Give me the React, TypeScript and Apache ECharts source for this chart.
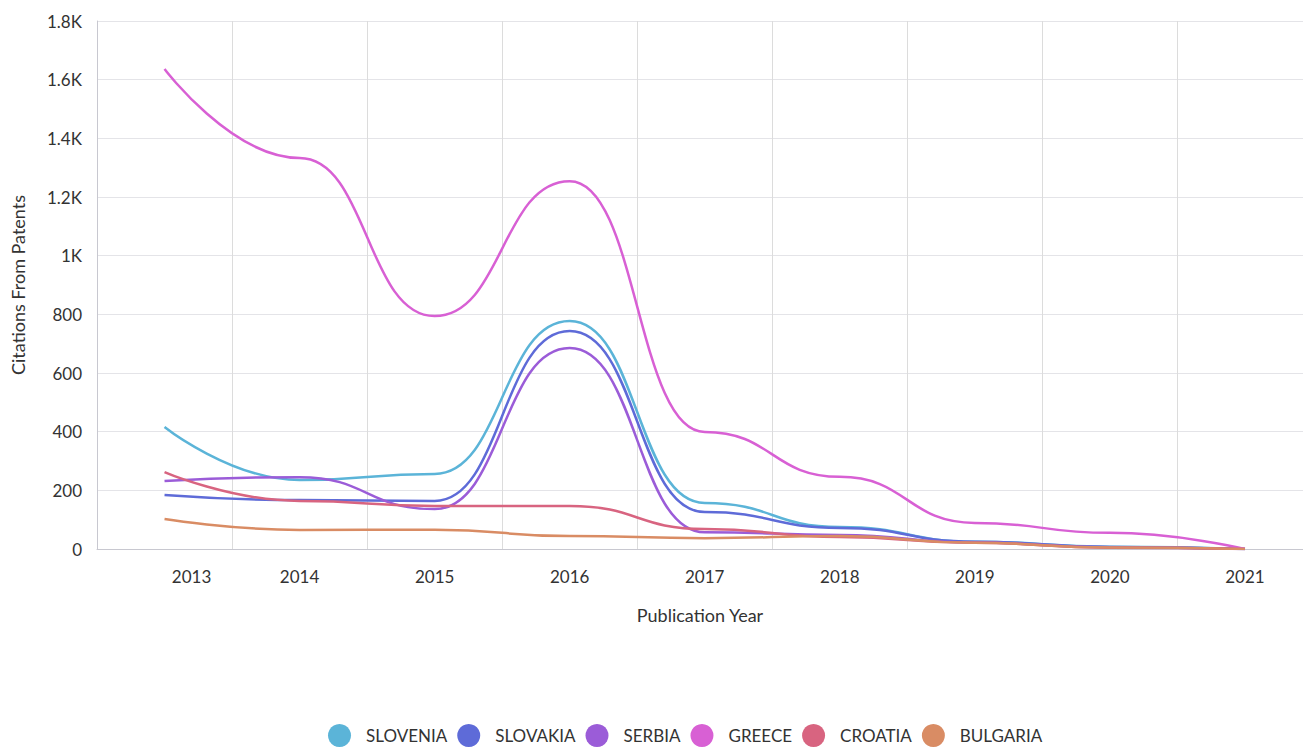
import React, { useEffect, useRef } from "react";
import * as echarts from "echarts";

const years = [2013, 2014, 2015, 2016, 2017, 2018, 2019, 2020, 2021];
const labelYears = [2013, 2014, 2015, 2016, 2017, 2018, 2019, 2020, 2021];
const yTicks = [0, 200, 400, 600, 800, 1000, 1200, 1400, 1600, 1800];

const seriesNames = ["SLOVENIA", "SLOVAKIA", "SERBIA", "GREECE", "CROATIA", "BULGARIA"];
const slovenia = [416, 235, 256, 777, 157, 75, 25, 8, 0];
const slovakia = [184, 167, 164, 743, 126, 72, 25, 7, 0];
const serbia = [232, 245, 136, 685, 57, 48, 22, 6, 0];
const greece = [1636, 1333, 794, 1254, 399, 246, 89, 55, 0];
const croatia = [262, 164, 147, 147, 68, 41, 21, 4, 0];
const bulgaria = [102, 65, 66, 44, 37, 44, 21, 5, 0];
const colors = ["#5bb4d8", "#5e6bd8", "#9b5cd8", "#d860d4", "#d86480", "#d98c64"];

const allValues = [slovenia, slovakia, serbia, greece, croatia, bulgaria];

export default function App() {
  const ref = useRef<HTMLDivElement>(null);
  useEffect(() => {
    if (!ref.current) return;
    const chart = echarts.init(ref.current, undefined, { renderer: "svg" });
    const font = "Lato, 'Noto Sans', sans-serif";
    const xMin = 2012.5;
    const xMax = 2021.43;
    chart.setOption({
      animation: false,
      color: colors,
      textStyle: { fontFamily: font },
      grid: { left: 97, right: 0, top: 21, bottom: 198, containLabel: false },
      legend: {
        bottom: 0,
        padding: 0,
        left: 328,
        icon: "circle",
        itemWidth: 23,
        itemHeight: 23,
        itemGap: 10,
        textStyle: { fontSize: 17, color: "#333", fontFamily: font, padding: [0, 0, 0, 10] },
        data: seriesNames,
      },
      xAxis: [
        {
          type: "value",
          min: xMin,
          max: xMax,
          interval: 1,
          axisLine: { show: true, lineStyle: { color: "#c8c8d0", width: 1 } },
          axisTick: { show: false },
          axisLabel: { show: false },
          splitLine: { show: true, lineStyle: { color: "#dcdcdc", width: 1 } },
        },
        {
          type: "value",
          position: "bottom",
          min: xMin,
          max: xMax,
          axisLine: { show: false },
          axisTick: { show: false },
          splitLine: { show: false },
          axisLabel: {
            show: true,
            customValues: labelYears.map((y) => (y === 2013 ? 2013.2 : y)),
            formatter: (v: number) => String(Math.round(v)),
            color: "#333",
            fontSize: 17,
            margin: 19,
          },
          name: "Publication Year",
          nameLocation: "middle",
          nameGap: 57,
          nameTextStyle: { color: "#333", fontSize: 18 },
        },
      ],
      yAxis: {
        type: "value",
        min: 0,
        max: 1800,
        interval: 200,
        axisLine: { show: true, lineStyle: { color: "#c8c8d0" } },
        axisTick: { show: false },
        splitLine: { show: true, lineStyle: { color: "#e4e4e8" } },
        axisLabel: {
          color: "#333",
          fontSize: 17,
          margin: 15,
          customValues: yTicks,
          formatter: (v: number) => (v >= 1000 ? v / 1000 + "K" : String(v)),
        },
        name: "Citations From Patents",
        nameLocation: "middle",
        nameRotate: 90,
        nameGap: 70,
        nameTextStyle: { color: "#333", fontSize: 18 },
      },
      series: seriesNames.map((name, i) => ({
        name,
        type: "line",
        xAxisIndex: 0,
        smooth: 0.5,
        smoothMonotone: "x",
        symbol: "none",
        lineStyle: { width: 2.5, color: colors[i] },
        itemStyle: { color: colors[i] },
        data: years.map((y, j) => [y, allValues[i][j]]),
      })),
    });
    return () => chart.dispose();
  }, []);
  return (
    <div
      ref={ref}
      style={{ position: "fixed", left: 0, top: 0, width: 1303, height: 747, background: "#fff" }}
    />
  );
}
